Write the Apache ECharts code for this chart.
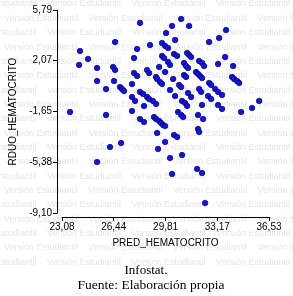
<!DOCTYPE html>
<html>
<head>
<meta charset="utf-8">
<script src="https://cdn.jsdelivr.net/npm/echarts@6/dist/echarts.min.js"></script>
<style>
html,body{margin:0;padding:0;background:#fff;}
#c{width:293px;height:296px;}
</style>
</head>
<body>
<div id="c"></div>
<script>
const xTicks = [23.08, 26.44, 29.81, 33.17, 36.53];
const yTicks = [-9.10, -5.38, -1.65, 2.07, 5.79];
const xName = 'PRED_HEMATOCRITO';
const yName = 'RDUO_HEMATOCRITO';
const footer1 = 'Infostat.';
const footer2 = 'Fuente: Elaboración propia';
const watermark = 'Versión Estudiantil';

const predValues = [
28.15,30.82,30.23,31.34,33.74,29.84,30.43,33.29,32.64,26.53,
29.58,29.78,29.97,28.80,27.96,24.25,30.36,30.56,31.21,31.34,
31.47,29.58,29.71,33.68,24.77,27.76,29.97,30.10,31.01,31.14,
31.27,31.99,32.18,32.31,33.22,34.20,24.19,29.39,25.36,26.40,
26.53,28.61,28.74,29.78,27.76,27.96,31.79,31.92,32.05,32.18,
31.01,31.14,30.30,29.19,29.26,29.45,29.58,34.13,34.26,34.46,
34.59,25.36,26.46,32.64,32.77,30.69,30.82,27.63,26.85,26.98,
27.11,25.94,30.10,31.99,32.12,28.15,28.35,33.03,33.22,33.48,
28.61,28.74,30.43,31.27,31.47,32.57,32.77,27.63,27.83,28.99,
29.19,30.88,31.08,31.21,28.41,32.18,33.22,33.48,35.89,35.43,
34.72,23.60,25.94,27.63,28.15,28.41,30.62,30.82,30.95,29.06,
29.19,29.39,29.52,29.65,29.78,31.92,32.25,29.26,30.36,30.56,
31.92,31.99,29.78,26.92,26.20,29.32,25.36,30.10,30.88,30.23,
31.86,32.18,32.38
];
const rduoValues = [
4.84,5.13,4.62,4.62,4.32,4.10,3.59,3.74,3.44,3.44,
3.37,3.15,3.00,3.22,2.93,2.78,2.56,2.42,2.64,2.49,
2.34,2.42,2.27,2.34,2.20,2.27,1.98,1.76,1.90,1.68,
1.54,2.05,1.90,1.68,1.83,1.68,1.76,1.61,1.54,1.61,
1.39,1.39,1.17,1.24,1.17,0.95,1.24,1.10,0.95,0.80,
1.02,0.88,0.73,0.88,0.73,0.51,0.36,0.88,0.73,0.58,
0.44,0.58,0.58,0.44,0.29,0.29,0.14,0.36,0.14,0.00,
-0.15,-0.01,-0.08,0.00,-0.22,-0.22,-0.37,0.00,-0.22,-0.44,
-0.59,-0.74,-0.52,-0.30,-0.59,-0.52,-0.74,-0.59,-0.88,-0.88,
-1.10,-0.88,-1.03,-1.25,-1.25,-1.18,-1.18,-1.47,-0.88,-1.40,
-1.69,-1.69,-1.91,-1.62,-2.21,-2.43,-1.69,-1.91,-2.06,-2.06,
-2.21,-2.35,-2.50,-2.65,-2.72,-1.91,-2.21,-3.23,-3.38,-3.53,
-2.94,-3.16,-3.89,-3.97,-4.26,-4.41,-5.36,-5.07,-4.85,-6.24,
-5.87,-6.17,-8.37
];

const points = predValues.map((x, i) => [x, rduoValues[i]]);
const fmt = v => v.toFixed(2).replace('.', ',');

// watermark graphic elements
const wm = [];
for (let r = 0; r < 19; r++) {
  const y = 4 + r * 14.35;
  const off = (r % 2 === 0) ? -37.5 : 4;
  for (let k = -1; k < 5; k++) {
    wm.push({
      type: 'text', z: -10, silent: true,
      x: off + k * 84.5, y: y,
      style: { text: watermark, fill: '#e6e6e6', font: '9px "Liberation Sans", Arial, sans-serif', textVerticalAlign: 'middle' }
    });
  }
}

const chart = echarts.init(document.getElementById('c'), null, {renderer: 'canvas'});
chart.setOption({
  backgroundColor: '#fff',
  animation: false,
  grid: { left: 62, right: 24, top: 10, bottom: 83, containLabel: false },
  xAxis: {
    type: 'value', min: xTicks[0], max: xTicks[xTicks.length - 1],
    offset: 4,
    name: xName, nameLocation: 'middle', nameGap: 21,
    nameTextStyle: { color: '#000', fontSize: 10, fontFamily: '"Liberation Sans", Arial, sans-serif' },
    axisLine: { onZero: false, lineStyle: { color: '#000', width: 1 } },
    axisTick: { show: true, length: 4, customValues: xTicks, lineStyle: { color: '#000' } },
    axisLabel: { customValues: xTicks, formatter: fmt, color: '#000', fontSize: 10, margin: 5, fontFamily: '"Liberation Sans", Arial, sans-serif' },
    splitLine: { show: false }
  },
  yAxis: {
    type: 'value', min: yTicks[0], max: yTicks[yTicks.length - 1],
    offset: 5,
    name: yName, nameLocation: 'middle', nameGap: 37, nameRotate: 90,
    nameTextStyle: { color: '#000', fontSize: 10, fontFamily: '"Liberation Sans", Arial, sans-serif' },
    axisLine: { show: true, onZero: false, lineStyle: { color: '#000', width: 1 } },
    axisTick: { show: true, length: 4, customValues: yTicks, lineStyle: { color: '#000' } },
    axisLabel: { customValues: yTicks, formatter: fmt, color: '#000', fontSize: 10, margin: 5, fontFamily: '"Liberation Sans", Arial, sans-serif' },
    splitLine: { show: false }
  },
  graphic: wm.concat([
    { type: 'text', x: 146, y: 271, z: 10,
      style: { text: footer1, fill: '#000', font: '13px "Liberation Serif", "Times New Roman", serif', textAlign: 'center', textVerticalAlign: 'middle' } },
    { type: 'text', x: 151, y: 285, z: 10,
      style: { text: footer2, fill: '#000', font: '13.5px "Liberation Serif", "Times New Roman", serif', textAlign: 'center', textVerticalAlign: 'middle' } }
  ]),
  series: [{
    type: 'scatter',
    data: points,
    symbol: 'circle',
    symbolSize: 5.5,
    itemStyle: { color: '#1212ee', borderColor: '#00005a', borderWidth: 0.7, opacity: 1 },
    z: 5
  }]
});
</script>
</body>
</html>
